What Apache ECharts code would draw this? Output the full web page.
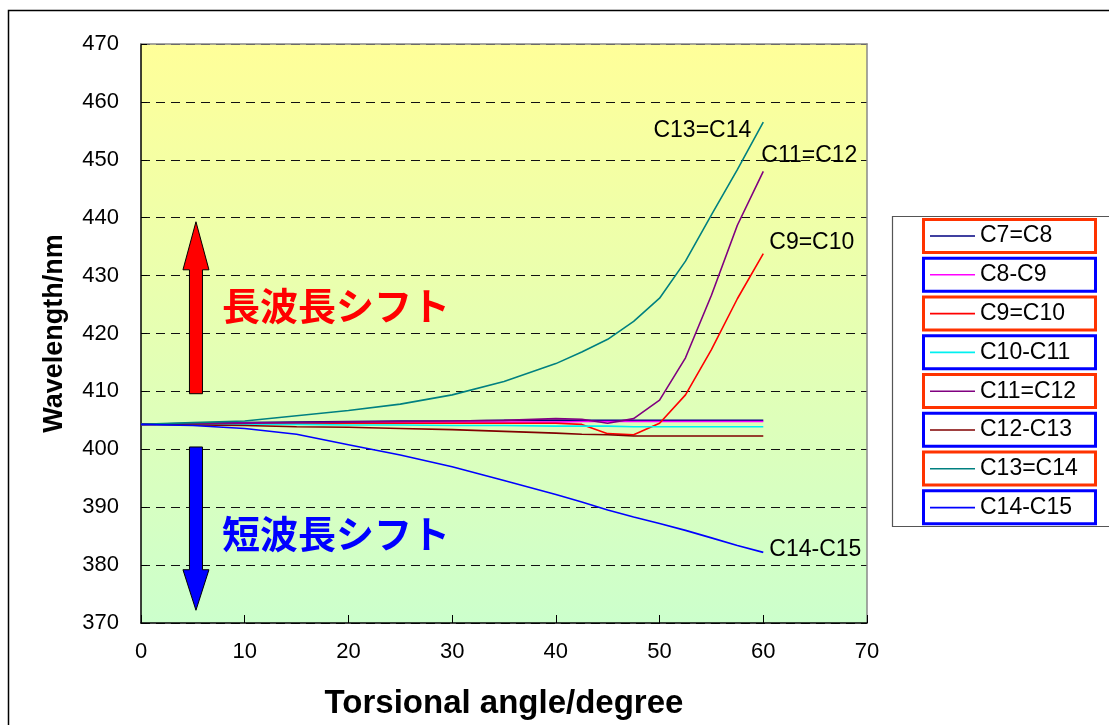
<!DOCTYPE html>
<html><head><meta charset="utf-8">
<script src="https://cdn.jsdelivr.net/npm/echarts@6/dist/echarts.min.js"></script>
<style>html,body{margin:0;padding:0;background:#fff}#c{width:1109px;height:725px}</style>
</head><body><div id="c"></div>
<script>
// ---- data ----
const angles  = [0,5,10,15,20,25,30,35,40,42.5,45,47.5,50,52.5,55,57.5,60];
const names   = ['C7=C8','C8-C9','C9=C10','C10-C11','C11=C12','C12-C13','C13=C14','C14-C15'];
const c7c8    = [404.3,404.5,404.6,404.7,404.8,404.9,404.9,405.0,405.0,405.0,405.0,405.0,405.0,405.0,405.0,405.0,405.0];
const c8c9    = [404.3,404.4,404.5,404.5,404.6,404.6,404.7,404.7,404.7,404.8,404.8,404.8,404.8,404.8,404.8,404.8,404.8];
const c9c10   = [404.3,404.4,404.4,404.4,404.5,404.5,404.5,404.5,404.5,404.3,402.7,402.5,404.5,409.4,417.2,426.0,433.8];
const c10c11  = [404.3,404.3,404.3,404.3,404.2,404.2,404.1,404.1,404.0,404.0,404.0,403.9,403.9,403.9,403.9,403.9,403.9];
const c11c12  = [404.3,404.4,404.5,404.6,404.7,404.8,404.9,405.0,405.3,405.2,404.5,405.3,408.5,415.8,426.6,438.7,448.0];
const c12c13  = [404.3,404.2,404.1,403.9,403.8,403.6,403.4,403.1,402.8,402.6,402.5,402.3,402.3,402.3,402.3,402.3,402.3];
const c13c14  = [404.3,404.6,404.9,405.8,406.7,407.8,409.4,411.7,414.8,416.8,419.0,422.1,426.1,432.5,440.5,448.3,456.5];
const c14c15  = [404.3,404.1,403.6,402.6,400.8,399.0,397.0,394.6,392.2,390.9,389.5,388.3,387.2,386.0,384.7,383.4,382.2];
const xTicks  = [0,10,20,30,40,50,60,70];
const yTicks  = [370,380,390,400,410,420,430,440,450,460,470];
const endLabels = ['C13=C14','C11=C12','C9=C10','C14-C15'];
const redShift  = '長波長シフト';
const blueShift = '短波長シフト';

// ---- styling ----
const values = [c7c8,c8c9,c9c10,c10c11,c11c12,c12c13,c13c14,c14c15];
const colors = ['#000080','#FF00FF','#FF0000','#00F0F0','#800080','#800000','#008080','#0000FF'];
const boxColors = ['#FF3300','#0000FF','#FF3300','#0000FF','#FF3300','#0000FF','#FF3300','#0000FF'];
const FONT = 'Liberation Sans, Arial, sans-serif';

const chart = echarts.init(document.getElementById('c'), null, {renderer:'canvas'});
const series = names.map((n,i)=>({
  name:n, type:'line', symbol:'none', smooth:false, z: 3,
  lineStyle:{color:colors[i], width:1.6}, itemStyle:{color:colors[i]},
  data: angles.map((a,j)=>[a, values[i][j]])
}));

const gridL=141, gridR=1109-867, gridT=44, gridB=725-623;
chart.setOption({
  animation:false,
  backgroundColor:'#fff',
  grid:{left:gridL, right:gridR, top:gridT, bottom:gridB, show:true, borderWidth:0,
    backgroundColor: new echarts.graphic.LinearGradient(0,0,0,1,[
      {offset:0,color:'#FFFF99'},{offset:1,color:'#CCFFCC'}])},
  legend:{orient:'vertical', left:930, top:218, padding:0, itemGap:2.8,
    icon:'rect', itemWidth:45, itemHeight:1.6,
    textStyle:{fontSize:23, fontFamily:FONT, color:'#000', lineHeight:36},
    data:names},
  xAxis:[{type:'value', min:xTicks[0], max:xTicks[xTicks.length-1], interval:10,
    name:'Torsional angle/degree', nameLocation:'middle', nameGap:64,
    nameTextStyle:{fontSize:33, fontWeight:'bold', fontFamily:FONT, color:'#000'},
    axisLine:{lineStyle:{color:'#000', width:1.5}},
    axisTick:{inside:true, length:8, lineStyle:{color:'#000'}},
    axisLabel:{fontSize:22, fontFamily:FONT, color:'#000', margin:18},
    splitLine:{show:false}},
   {type:'value', position:'top', min:0, max:70, axisLine:{show:true, onZero:false, lineStyle:{color:'#888', width:1.5}},
    axisTick:{show:false}, axisLabel:{show:false}, splitLine:{show:false}}],
  yAxis:[{type:'value', min:yTicks[0], max:yTicks[yTicks.length-1], interval:10,
    name:'Wavelength/nm', nameLocation:'middle', nameGap:73, nameRotate:90,
    nameTextStyle:{fontSize:27, fontWeight:'bold', fontFamily:FONT, color:'#000'},
    axisLine:{show:true, lineStyle:{color:'#000', width:1.5}},
    axisTick:{show:true, inside:true, length:6, lineStyle:{color:'#000'}},
    axisLabel:{fontSize:22, fontFamily:FONT, color:'#000', margin:22},
    splitLine:{show:true, lineStyle:{color:'#111', type:[9,6], width:1}}},
   {type:'value', position:'right', min:370, max:470, axisLine:{show:true, onZero:false, lineStyle:{color:'#888', width:1.5}},
    axisTick:{show:false}, axisLabel:{show:false}, splitLine:{show:false}}],
  series: series
});

function px(x,y){ return chart.convertToPixel({xAxisIndex:0,yAxisIndex:0},[x,y]); }
const gr = [];
// outer frame
gr.push({type:'rect', shape:{x:8.5,y:10.5,width:1200,height:800}, style:{fill:null, stroke:'#000', lineWidth:1.5}, silent:true, z:0});
// legend frame
gr.push({type:'rect', shape:{x:892.5,y:216.5,width:300,height:310}, style:{fill:null, stroke:'#555', lineWidth:1.2}, silent:true, z:1});
for(let i=0;i<names.length;i++){
  gr.push({type:'rect', shape:{x:923.5, y:219.5+i*38.76, width:172, height:33}, style:{fill:null, stroke:boxColors[i], lineWidth:3}, silent:true, z:1});
}
// arrows (anchored on data coordinates)
function arrow(xv, tailV, baseV, tipV, fill){
  const t=px(xv,tailV), b=px(xv,baseV), p=px(xv,tipV);
  const cx=t[0], sw=6.5, hw=13;
  return {type:'polygon', shape:{points:[[cx-sw,t[1]],[cx-sw,b[1]],[cx-hw,b[1]],[cx,p[1]],[cx+hw,b[1]],[cx+sw,b[1]],[cx+sw,t[1]]]},
    style:{fill:fill, stroke:'#000', lineWidth:1}, silent:true, z:5};
}
gr.push(arrow(5.3, 409.6, 431.0, 439.3, '#FF0000'));
gr.push(arrow(5.3, 400.4, 379.2, 372.2, '#0000FF'));
const r1=px(7.8, 424.9), r2=px(7.8, 385.5);
gr.push({type:'text', x:r1[0], y:r1[1], style:{text:redShift, fill:'#FF0000', font:'bold 38px "Noto Sans CJK JP"', textAlign:'left', textVerticalAlign:'middle'}, z:6});
gr.push({type:'text', x:r2[0], y:r2[1], style:{text:blueShift, fill:'#0000FF', font:'bold 38px "Noto Sans CJK JP"', textAlign:'left', textVerticalAlign:'middle'}, z:6});
// end labels
const endIdx = [6,4,2,7];
const offs = [[-12,8,'right'],[-2,-16,'left'],[6,-11,'left'],[6,-3,'left']];
endIdx.forEach((si,k)=>{
  const last = values[si].length-1;
  const p = px(angles[last], values[si][last]);
  gr.push({type:'text', x:p[0]+offs[k][0], y:p[1]+offs[k][1], style:{text:endLabels[k], fill:'#000', font:'23px '+FONT, textAlign:offs[k][2], textVerticalAlign:'middle'}, z:6});
});
chart.setOption({graphic:gr});
</script></body></html>
